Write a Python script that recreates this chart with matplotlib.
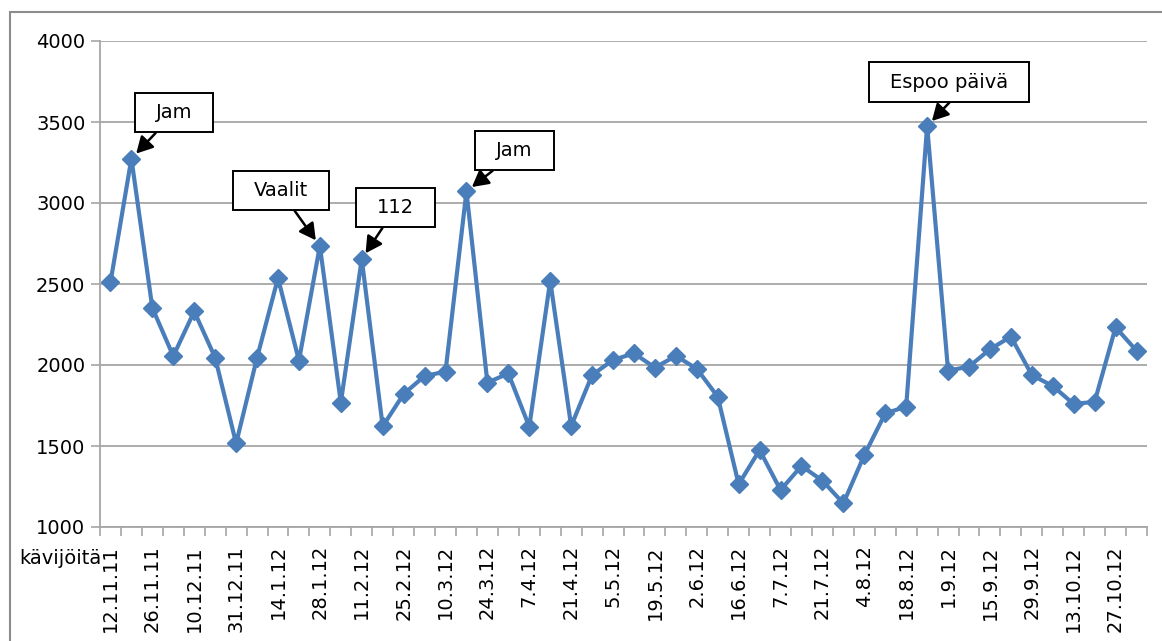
import numpy as np
import matplotlib
matplotlib.use("Agg")
import matplotlib.pyplot as plt
from matplotlib.patches import Rectangle
from matplotlib.path import Path

plt.rcParams['font.family'] = ['DejaVu Sans']

# ---- data ----
date_labels = ['12.11.11', '26.11.11', '10.12.11', '31.12.11', '14.1.12', '28.1.12',
               '11.2.12', '25.2.12', '10.3.12', '24.3.12', '7.4.12', '21.4.12',
               '5.5.12', '19.5.12', '2.6.12', '16.6.12', '7.7.12', '21.7.12',
               '4.8.12', '18.8.12', '1.9.12', '15.9.12', '29.9.12', '13.10.12',
               '27.10.12']

visitors = [2510, 3274, 2352, 2055, 2331, 2045, 1516, 2045, 2537, 2027,
            2735, 1767, 2654, 1621, 1821, 1932, 1959, 3072, 1891, 1948,
            1619, 2520, 1623, 1938, 2031, 2072, 1984, 2056, 1977, 1804,
            1264, 1475, 1228, 1377, 1286, 1146, 1444, 1701, 1743, 3475,
            1965, 1990, 2097, 2175, 1938, 1870, 1759, 1773, 2233, 2088]

y_label = 'kävijöitä'

# annotations: text, point index
note_texts = ['Jam', 'Vaalit', '112', 'Jam', 'Espoo päivä']
note_index = [1, 10, 12, 17, 39]
# layout of callout boxes (pixel offsets of box centre from point, arrow start)
note_offsets = [(42.5, 46), (-39, 55.5), (33.5, 51.5), (48, 41), (22, 44)]
note_relx = [0.28, 0.61, 0.35, 0.28, 0.59]

W, H = 1162, 641
fig = plt.figure(figsize=(W / 100, H / 100), dpi=100)
ax = fig.add_axes([100 / W, 1 - 527 / H, 1047 / W, 486 / H])

grid_c = '#A6A6A6'
x = np.arange(len(visitors))
ax.plot(x, visitors, color='#4A7EBB', lw=3, marker='D', ms=9.5,
        markeredgecolor='#4A7EBB', zorder=3, clip_on=False)

ax.set_xlim(-0.5, len(visitors) - 0.5)
ax.set_ylim(1000, 4000)
ax.set_yticks(range(1000, 4001, 500))
ax.yaxis.grid(True, color=grid_c, lw=1.3)
ax.set_axisbelow(True)

ax.set_xticks(np.arange(len(visitors) + 1) - 0.5)
ax.set_xticklabels([])
ax.set_xticks(np.arange(0, len(visitors), 2), minor=True)
ax.set_xticklabels(date_labels, minor=True, rotation=90, fontsize=14,
                   va='top', ha='center')
ax.tick_params(axis='x', which='major', length=6.5, color=grid_c, width=1.2)
ax.tick_params(axis='x', which='minor', length=0, pad=13)
ax.tick_params(axis='y', length=6.5, color=grid_c, width=1.2, pad=4,
               labelsize=14)

for s in ['top', 'right']:
    ax.spines[s].set_visible(False)
for s in ['left', 'bottom']:
    ax.spines[s].set_color(grid_c)
    ax.spines[s].set_linewidth(1.3)


def callout_box(x0, y0, width, height, mutation_size):
    hp = 1.08 * mutation_size
    vp = 0.52 * mutation_size
    x0 -= hp
    y0 -= vp
    w = width + 2 * hp
    h = height + 2 * vp
    return Path([(x0, y0), (x0 + w, y0), (x0 + w, y0 + h), (x0, y0 + h), (x0, y0)],
                closed=True)


for txt, idx, off, rx in zip(note_texts, note_index, note_offsets, note_relx):
    ax.annotate(txt, xy=(idx, visitors[idx]), xytext=off,
                textcoords='offset pixels', ha='center', va='center',
                fontsize=14, zorder=5,
                bbox=dict(boxstyle=callout_box, fc='white', ec='black', lw=1.4),
                arrowprops=dict(arrowstyle='-|>,head_length=0.55,head_width=0.3',
                                color='black', lw=1.8, mutation_scale=18,
                                relpos=(rx, 0), shrinkA=0, shrinkB=5))

fig.text(19 / W, 1 - 559 / H, y_label, fontsize=14, ha='left', va='center')

fig.patches.append(Rectangle((10 / W, -0.1), 1.2, (1 - 12 / H) + 0.1,
                             transform=fig.transFigure, fill=False,
                             ec='#8C8C8C', lw=1.5))

fig.savefig('out.png', dpi=100)
